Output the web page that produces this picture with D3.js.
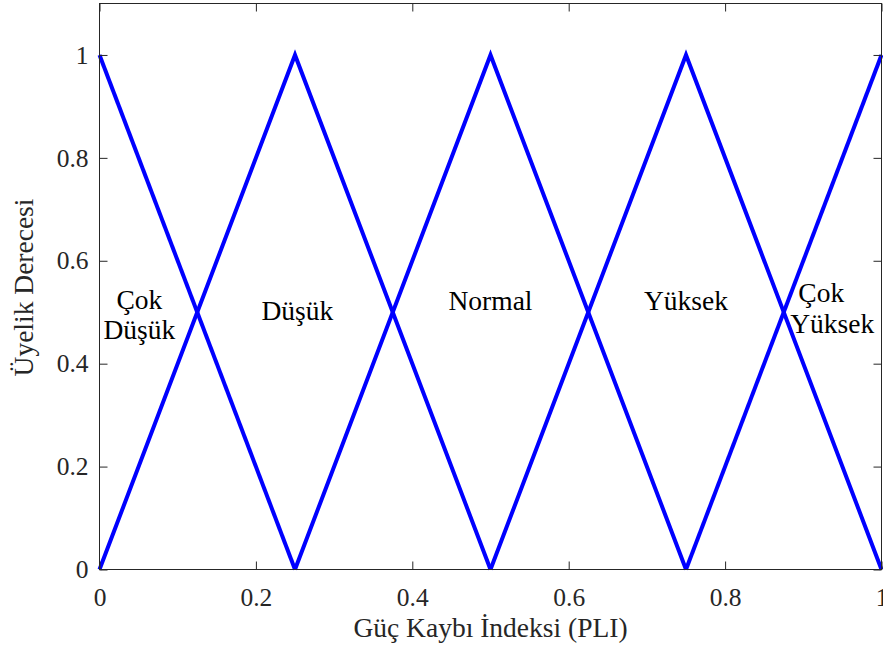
<!DOCTYPE html>
<html><head><meta charset="utf-8">
<script src="https://cdn.jsdelivr.net/npm/d3@7"></script>
<style>body{margin:0;background:#fff}</style>
</head><body>
<svg id="c" width="883" height="657"></svg>
<script>
const xTicks = [0, 0.2, 0.4, 0.6, 0.8, 1];
const yTicks = [0, 0.2, 0.4, 0.6, 0.8, 1];
const cokDusukX = [0, 0.25], cokDusukY = [1, 0];
const dusukX = [0, 0.25, 0.5], dusukY = [0, 1, 0];
const normalX = [0.25, 0.5, 0.75], normalY = [0, 1, 0];
const yuksekX = [0.5, 0.75, 1], yuksekY = [0, 1, 0];
const cokYuksekX = [0.75, 1], cokYuksekY = [0, 1];
const labelTexts = ["Çok", "Düşük", "Düşük", "Normal", "Yüksek", "Çok", "Yüksek"];
const labelX = [0.051, 0.051, 0.253, 0.5, 0.75, 0.923, 0.937];
const labelY = [0.524, 0.466, 0.503, 0.522, 0.522, 0.538, 0.478];

const svg = d3.select("#c");
const L = 99.5, R = 881.5, T = 3.5, B = 569.5;
const x = d3.scaleLinear().domain([0, 1]).range([L, R]);
const y = d3.scaleLinear().domain([0, 1.1]).range([B, T]);
const font = "'Liberation Serif','Times New Roman',serif";
const axc = "#262626";

const series = [[cokDusukX, cokDusukY], [dusukX, dusukY], [normalX, normalY], [yuksekX, yuksekY], [cokYuksekX, cokYuksekY]];
const line = d3.line().x(d => x(d[0])).y(d => y(d[1]));
series.forEach(([xs, ys]) => {
  svg.append("path").datum(xs.map((v, i) => [v, ys[i]]))
    .attr("d", line).attr("fill", "none").attr("stroke", "#0000ff")
    .attr("stroke-width", 4).attr("stroke-linejoin", "miter");
});

// box
svg.append("rect").attr("x", L).attr("y", T).attr("width", R - L).attr("height", B - T)
  .attr("fill", "none").attr("stroke", axc).attr("stroke-width", 1);

const tl = 8;
const gx = svg.append("g").attr("transform", `translate(0,${B})`)
  .call(d3.axisBottom(x).tickValues(xTicks).tickFormat(d3.format("")).tickSize(-tl).tickPadding(18));
const gxt = svg.append("g").attr("transform", `translate(0,${T})`)
  .call(d3.axisTop(x).tickValues(xTicks).tickFormat("").tickSize(-tl));
const gy = svg.append("g").attr("transform", `translate(${L},0)`)
  .call(d3.axisLeft(y).tickValues(yTicks).tickFormat(d3.format("")).tickSize(-tl).tickPadding(11));
const gyr = svg.append("g").attr("transform", `translate(${R},0)`)
  .call(d3.axisRight(y).tickValues(yTicks).tickFormat("").tickSize(-tl));
[gx, gxt, gy, gyr].forEach(g => {
  g.select(".domain").remove();
  g.selectAll("line").attr("stroke", axc);
  g.selectAll("text").attr("fill", axc).style("font-family", font).style("font-size", "25.5px");
});

svg.selectAll(".lbl").data(labelTexts).enter().append("text")
  .attr("x", (d, i) => x(labelX[i])).attr("y", (d, i) => y(labelY[i]))
  .attr("text-anchor", "middle").attr("dominant-baseline", "central")
  .style("font-family", font).style("font-size", "27.5px").attr("fill", "#000")
  .text(d => d);

svg.append("text").attr("x", (L + R) / 2).attr("y", 637).attr("text-anchor", "middle")
  .style("font-family", font).style("font-size", "27.5px").attr("fill", axc)
  .text("Güç Kaybı İndeksi (PLI)");
svg.append("text").attr("transform", `translate(33,${(T + B) / 2 + 1}) rotate(-90)`).attr("text-anchor", "middle")
  .style("font-family", font).style("font-size", "27.5px").attr("fill", axc)
  .text("Üyelik Derecesi");
</script>
</body></html>
